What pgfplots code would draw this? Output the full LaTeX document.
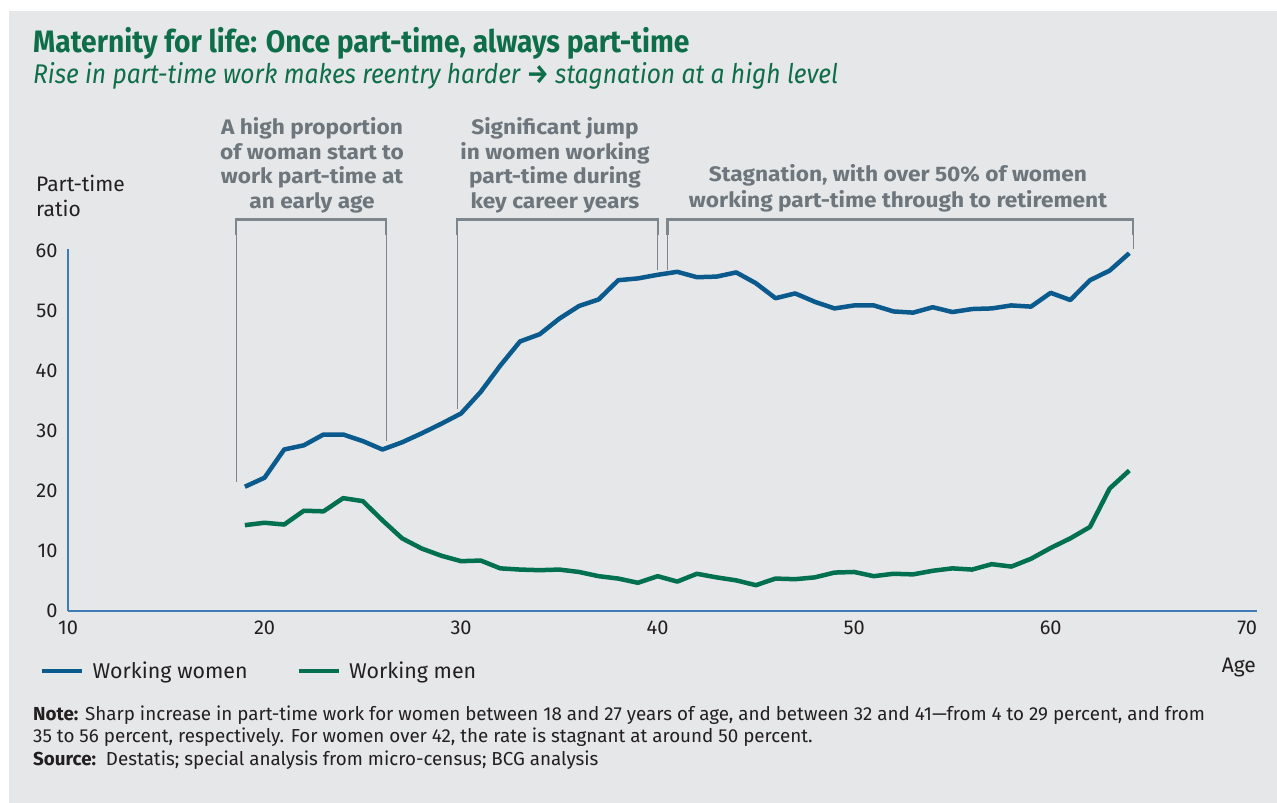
\documentclass[border=0pt]{standalone}
\usepackage{pgfplots}
\pgfplotsset{compat=1.18}
\usepackage{fontspec}
\setmainfont{Fira Sans}
\newfontfamily\titlefont{Fira Sans}[FakeStretch=0.91]
\newfontfamily\annfont{Fira Sans}[FakeStretch=1.08]
\definecolor{bgc}{HTML}{E6E7E8}
\definecolor{womenc}{HTML}{0B5A8E}
\definecolor{menc}{HTML}{00704F}
\definecolor{titlec}{HTML}{0E6E4A}
\definecolor{annc}{HTML}{6D767C}
\definecolor{brkc}{HTML}{7D868C}
\definecolor{axisc}{HTML}{3C7DB5}
\definecolor{txtc}{HTML}{231F20}

\pgfplotstableread{
age women men
19 20.7 14.3
20 22.2 14.7
21 26.9 14.4
22 27.6 16.7
23 29.4 16.6
24 29.4 18.8
25 28.3 18.3
26 26.9 15.1
27 28.1 12.1
28 29.6 10.4
29 31.2 9.2
30 32.9 8.3
31 36.5 8.4
32 40.9 7.1
33 44.9 6.9
34 46.1 6.8
35 48.7 6.9
36 50.8 6.5
37 51.9 5.8
38 55.1 5.4
39 55.4 4.7
40 56.0 5.8
41 56.5 4.9
42 55.6 6.2
43 55.7 5.6
44 56.4 5.1
45 54.6 4.3
46 52.1 5.4
47 52.9 5.3
48 51.5 5.6
49 50.4 6.4
50 50.9 6.5
51 50.9 5.8
52 49.9 6.2
53 49.7 6.1
54 50.6 6.7
55 49.8 7.1
56 50.3 6.9
57 50.4 7.8
58 50.9 7.4
59 50.7 8.7
60 53.0 10.5
61 51.8 12.1
62 55.1 14.0
63 56.7 20.4
64 59.6 23.4
}\datatable

\newcommand{\annline}[3]{\node[anchor=base, inner sep=0pt, text=annc, font=\annfont\bfseries\fontsize{21}{24}\selectfont] at (#1,#2) {#3};}

\begin{document}
\begin{tikzpicture}[x=1pt,y=1pt]
\fill[white] (0,0) rectangle (1277,803);
\fill[bgc] (9,0) rectangle (1277,792);
% titles
\node[anchor=base west, inner sep=0pt, text=titlec, font=\titlefont\bfseries\fontsize{31}{34}\selectfont] at (33,750) {Maternity for life: Once part-time, always part-time};
\node[anchor=base west, inner sep=0pt, text=titlec, font=\titlefont\itshape\fontsize{27}{30}\selectfont] at (33,719) {Rise in part-time work makes reentry harder {\bfseries\textrightarrow} stagnation at a high level};

\begin{axis}[
  at={(68pt,192pt)}, anchor=south west,
  scale only axis, width=1189pt, height=362pt,
  xmin=10, xmax=70.5, ymin=0, ymax=60.3,
  xtick={10,20,...,70}, ytick={0,10,...,60},
  axis x line*=bottom, axis y line*=left,
  axis line style={draw=axisc, line width=1.2pt, -},
  major tick length=0pt,
  tick style={draw=none},
  /pgf/number format/assume math mode=true,
  ticklabel style={font=\fontsize{20}{24}\selectfont, text=txtc},
  xticklabel style={yshift=-6pt},
  yticklabel style={xshift=-7pt},
  clip=false,
  legend columns=2,
  legend style={at={(-0.02355,-0.1657)}, anchor=west, draw=none, fill=none,
    inner sep=0pt, font=\fontsize{21.4}{24}\selectfont, text=txtc,
    nodes={inner sep=0pt},
    /tikz/every odd column/.style={column sep=8pt},
    /tikz/every even column/.style={column sep=49pt}},
  legend image code/.code={\draw[#1, line width=4.5pt] (0pt,0pt) -- (40pt,0pt);},
]
\addplot[womenc, line width=4.5pt, line join=round] table[x=age, y=women] {\datatable};
\addlegendentry{Working women}
\addplot[menc, line width=4.5pt, line join=round] table[x=age, y=men] {\datatable};
\addlegendentry{Working men}
% brackets
\draw[brkc, line width=2.2pt] (axis cs:18.55,62.7) |- (axis cs:26.18,65.2) -- (axis cs:26.18,62.7);
\draw[brkc, line width=0.8pt] (axis cs:18.55,62.7) -- (axis cs:18.55,21.5);
\draw[brkc, line width=0.8pt] (axis cs:26.18,62.7) -- (axis cs:26.18,28.3);
\draw[brkc, line width=2.2pt] (axis cs:29.8,62.7) |- (axis cs:40.0,65.2) -- (axis cs:40.0,62.7);
\draw[brkc, line width=0.8pt] (axis cs:29.8,62.7) -- (axis cs:29.8,33.7);
\draw[brkc, line width=0.8pt] (axis cs:40.0,62.7) -- (axis cs:40.0,56.8);
\draw[brkc, line width=2.2pt] (axis cs:40.5,62.7) |- (axis cs:64.2,65.2) -- (axis cs:64.2,62.7);
\draw[brkc, line width=0.8pt] (axis cs:40.5,62.7) -- (axis cs:40.5,56.8);
\draw[brkc, line width=0.8pt] (axis cs:64.2,62.7) -- (axis cs:64.2,60.3);
\end{axis}

% annotations
\annline{312}{668}{A high proportion}
\annline{312}{643.5}{of woman start to}
\annline{312}{619}{work part-time at}
\annline{312}{594}{an early age}
\annline{555}{668}{Significant jump}
\annline{555}{643.5}{in women working}
\annline{555}{619}{part-time during}
\annline{555}{594}{key career years}
\annline{898}{621}{Stagnation, with over 50\% of women}
\annline{898}{595}{working part-time through to retirement}

% y label
\node[anchor=base west, inner sep=0pt, text=txtc, font=\fontsize{21}{24}\selectfont] at (36,611) {Part-time};
\node[anchor=base west, inner sep=0pt, text=txtc, font=\fontsize{21}{24}\selectfont] at (36,586) {ratio};
% x label
\node[anchor=base east, inner sep=0pt, text=txtc, font=\fontsize{21}{24}\selectfont] at (1256,130) {Age};

% note
\node[anchor=base west, inner sep=0pt, text=txtc, font=\fontsize{18.8}{22}\selectfont] at (33,82) {\textbf{Note:} Sharp increase in part-time work for women between 18 and 27 years of age, and between 32 and 41---from 4 to 29 percent, and from};
\node[anchor=base west, inner sep=0pt, text=txtc, font=\fontsize{18.8}{22}\selectfont] at (33,60) {35 to 56 percent, respectively. For women over 42, the rate is stagnant at around 50 percent.};
\node[anchor=base west, inner sep=0pt, text=txtc, font=\fontsize{18.8}{22}\selectfont] at (33,37) {\textbf{Source:}\, Destatis; special analysis from micro-census; BCG analysis};
\end{tikzpicture}
\end{document}
